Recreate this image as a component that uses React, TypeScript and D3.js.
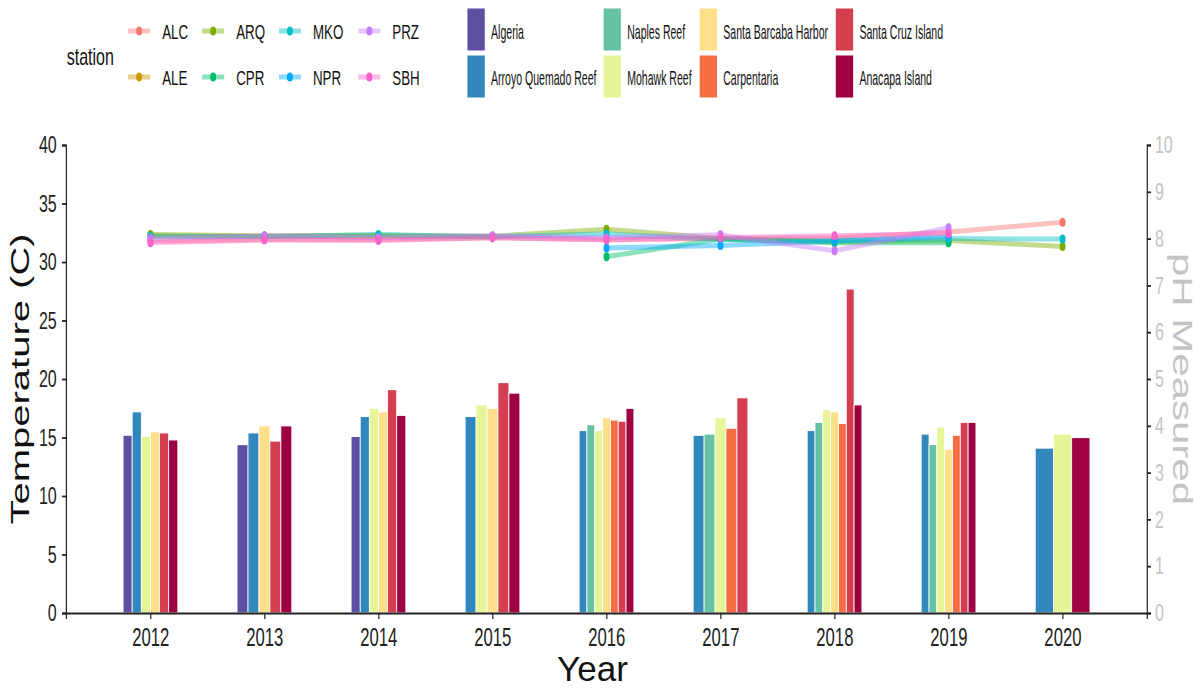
import React, { useEffect, useRef } from 'react';
import * as d3 from 'd3';

// chart is drawn on a wide canvas then squeezed into the window (like the original export)
const W = 1800;
const H = 692;

const years = [2012, 2013, 2014, 2015, 2016, 2017, 2018, 2019, 2020];

const sites = [
  'Algeria',
  'Arroyo Quemado Reef',
  'Naples Reef',
  'Mohawk Reef',
  'Santa Barcaba Harbor',
  'Carpentaria',
  'Santa Cruz Island',
  'Anacapa Island',
];
const siteColors = ['#5E4FA2', '#3288BD', '#66C2A5', '#E6F598', '#FEE08B', '#F46D43', '#D53E4F', '#9E0142'];

// temperature (C) per site, per year 2012..2020 (null = no data)
const tempAlgeria = [15.2, 14.4, 15.1, null, null, null, null, null, null];
const tempArroyo = [17.2, 15.4, 16.8, 16.8, 15.6, 15.2, 15.6, 15.3, 14.1];
const tempNaples = [null, null, null, null, 16.1, 15.3, 16.3, 14.4, null];
const tempMohawk = [15.1, null, 17.5, 17.8, 15.6, 16.7, 17.4, 15.9, 15.3];
const tempSBH = [15.5, 16.0, 17.2, 17.5, 16.7, null, 17.2, 14.0, null];
const tempCarpentaria = [null, null, null, null, 16.5, 15.8, 16.2, 15.2, null];
const tempSantaCruz = [15.4, 14.7, 19.1, 19.7, 16.4, 18.4, 27.7, 16.3, null];
const tempAnacapa = [14.8, 16.0, 16.9, 18.8, 17.5, null, 17.8, 16.3, 15.0];

const stations = ['ALC', 'ALE', 'ARQ', 'CPR', 'MKO', 'NPR', 'PRZ', 'SBH'];
const stationColors = ['#F8766D', '#CD9600', '#7CAE00', '#00BE67', '#00BFC4', '#00A9FF', '#C77CFF', '#FF61CC'];

// pH measured per station, per year 2012..2020
const phALC = [7.95, 7.98, 7.98, 8.02, 7.98, 8.0, 8.02, 8.14, 8.35];
const phALE = [8.06, 8.05, 8.05, 8.04, null, null, null, null, null];
const phARQ = [8.09, 8.06, 8.07, 8.05, 8.2, 8.0, 7.93, 7.96, 7.83];
const phCPR = [null, null, null, null, 7.61, 7.99, 7.91, 7.91, null];
const phMKO = [8.05, 8.04, 8.09, 8.04, 8.1, 7.98, 7.96, 8.0, 7.99];
const phNPR = [null, null, null, null, 7.8, 7.85, 7.95, 8.04, null];
const phPRZ = [8.0, 8.06, 8.02, 8.06, 8.02, 8.08, 7.74, 8.23, null];
const phSBH = [7.91, 7.97, 7.96, 8.02, 7.97, 8.02, 8.06, 8.11, null];

const tempTable = [tempAlgeria, tempArroyo, tempNaples, tempMohawk, tempSBH, tempCarpentaria, tempSantaCruz, tempAnacapa];
const phTable = [phALC, phALE, phARQ, phCPR, phMKO, phNPR, phPRZ, phSBH];

const FONT = '"Liberation Sans", Arial, Helvetica, sans-serif';

const App: React.FC = () => {
  const chartRef = useRef<SVGSVGElement | null>(null);

  useEffect(() => {
    renderChart();
  }, []);

  const renderChart = () => {
    const left = 99, right = 1719, top = 145, bottom = 613;

    const svg = d3.select(chartRef.current);
    svg.selectAll('*').remove();

    const x = d3.scaleLinear().domain([2011.26, 2020.74]).range([left, right]);
    const yT = d3.scaleLinear().domain([0, 40]).range([bottom, top]);
    const yP = d3.scaleLinear().domain([0, 10]).range([bottom, top]);

    // bars, dodged within each year
    const groupWidth = 0.48;
    years.forEach((yr, i) => {
      const present = sites.map((s, j) => j).filter(j => tempTable[j][i] != null);
      const bw = groupWidth / present.length;
      present.forEach((j, k) => {
        const v = tempTable[j][i] as number;
        const x0 = yr - groupWidth / 2 + k * bw;
        svg.append('rect')
          .attr('x', x(x0))
          .attr('width', x(x0 + bw) - x(x0))
          .attr('y', yT(v))
          .attr('height', yT(0) - yT(v))
          .attr('fill', siteColors[j])
          .attr('stroke', '#fff')
          .attr('stroke-width', 1.2);
      });
    });

    // pH lines + points
    const line = d3.line<[number, number]>()
      .x(d => x(d[0]))
      .y(d => yP(d[1]));

    stations.forEach((st, s) => {
      const pts: [number, number][] = years
        .map((yr, i) => [yr, phTable[s][i]] as [number, number | null])
        .filter(d => d[1] != null) as [number, number][];
      svg.append('path')
        .attr('d', line(pts))
        .attr('fill', 'none')
        .attr('stroke', stationColors[s])
        .attr('stroke-opacity', 0.45)
        .attr('stroke-width', 5)
        .attr('stroke-linejoin', 'round');
    });
    stations.forEach((st, s) => {
      years.forEach((yr, i) => {
        const v = phTable[s][i];
        if (v == null) return;
        svg.append('circle')
          .attr('cx', x(yr))
          .attr('cy', yP(v))
          .attr('r', 4.5)
          .attr('fill', stationColors[s]);
      });
    });

    // axes
    const styleAxis = (g: any, textColor: string, size: number) => {
      g.selectAll('path.domain').attr('stroke', '#222').attr('stroke-width', 1.8);
      g.selectAll('.tick line').attr('stroke', '#222').attr('stroke-width', 1.8);
      g.selectAll('.tick text')
        .attr('fill', textColor)
        .style('font-family', FONT)
        .style('font-size', `${size}px`);
    };

    const gx = svg.append('g')
      .attr('transform', `translate(0,${bottom})`)
      .call(d3.axisBottom(x).tickValues(years).tickFormat(d3.format('d')).tickSizeOuter(0).tickSize(6).tickPadding(9));
    styleAxis(gx, '#222', 25);

    const gy = svg.append('g')
      .attr('transform', `translate(${left},0)`)
      .call(d3.axisLeft(yT).ticks(8).tickSizeOuter(0).tickSize(6).tickPadding(8));
    styleAxis(gy, '#222', 24);

    const gr = svg.append('g')
      .attr('transform', `translate(${right},0)`)
      .call(d3.axisRight(yP).ticks(10).tickSizeOuter(0).tickSize(6).tickPadding(6));
    styleAxis(gr, '#C4C4C4', 24);

    // axis titles
    svg.append('text')
      .attr('transform', `translate(44,${(top + bottom) / 2}) rotate(-90)`)
      .attr('text-anchor', 'middle')
      .style('font-family', FONT)
      .style('font-size', '40px')
      .attr('fill', '#111')
      .text('Temperature (C)');

    svg.append('text')
      .attr('transform', `translate(1758,${(top + bottom) / 2}) rotate(90)`)
      .attr('text-anchor', 'middle')
      .style('font-family', FONT)
      .style('font-size', '42px')
      .attr('fill', '#C4C4C4')
      .text('pH Measured');

    svg.append('text')
      .attr('transform', `translate(888,681) scale(1.5,1)`)
      .attr('text-anchor', 'middle')
      .style('font-family', FONT)
      .style('font-size', '35px')
      .attr('fill', '#111')
      .text('Year');

    // station legend
    svg.append('text')
      .attr('x', 100)
      .attr('y', 65)
      .style('font-family', FONT)
      .style('font-size', '24px')
      .attr('fill', '#111')
      .text('station');

    const stKeyX = [192, 303, 418, 537];
    const rowY = [31, 77];
    stations.forEach((st, s) => {
      const col = Math.floor(s / 2);
      const row = s % 2;
      const kx = stKeyX[col];
      const ky = rowY[row];
      svg.append('line')
        .attr('x1', kx).attr('x2', kx + 33)
        .attr('y1', ky).attr('y2', ky)
        .attr('stroke', stationColors[s])
        .attr('stroke-opacity', 0.45)
        .attr('stroke-width', 5);
      svg.append('circle')
        .attr('cx', kx + 16.5).attr('cy', ky).attr('r', 4.5)
        .attr('fill', stationColors[s]);
      svg.append('text')
        .attr('x', kx + 51)
        .attr('y', ky + 8)
        .style('font-family', FONT)
        .style('font-size', '20px')
        .attr('fill', '#111')
        .text(st);
    });

    // site legend
    const siteKeyX = [700, 904, 1048, 1252];
    const keyTop = [8, 55];
    sites.forEach((site, j) => {
      const col = Math.floor(j / 2);
      const row = j % 2;
      svg.append('rect')
        .attr('x', siteKeyX[col])
        .attr('y', keyTop[row])
        .attr('width', 27)
        .attr('height', 43)
        .attr('fill', siteColors[j])
        .attr('stroke', '#fff')
        .attr('stroke-width', 1);
      svg.append('text')
        .attr('transform', `translate(${siteKeyX[col] + 36},${rowY[row] + 8}) scale(0.79,1)`)
        .style('font-family', FONT)
        .style('font-size', '20px')
        .attr('fill', '#111')
        .text(site);
    });
  };

  return (
    <div style={{ position: 'absolute', left: 0, top: 0 }}>
      <svg
        ref={chartRef}
        width={1201}
        height={692}
        viewBox={`0 0 ${W} ${H}`}
        preserveAspectRatio="none"
        style={{ display: 'block', background: '#fff' }}
      />
    </div>
  );
};

export default App;
